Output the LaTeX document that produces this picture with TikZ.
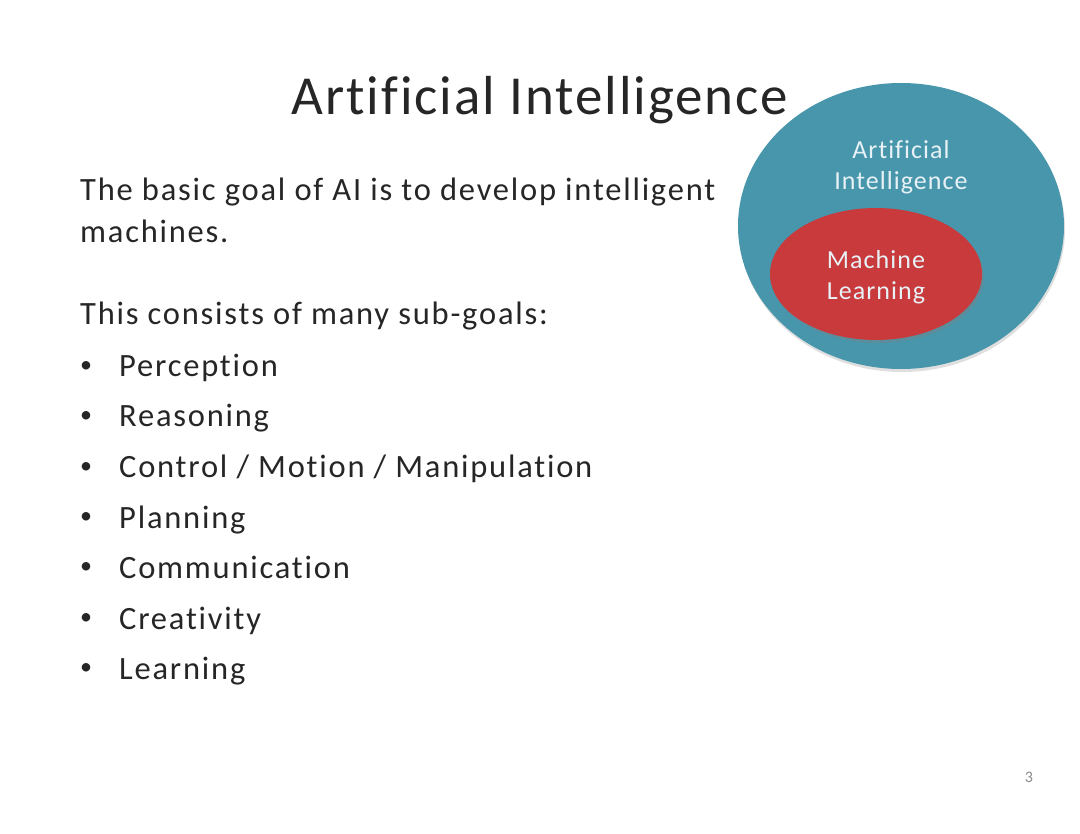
\documentclass[tikz,border=0pt]{standalone}
\usepackage{fontspec}
\setmainfont{Carlito}[LetterSpace=5.5, Ligatures=CommonOff]
\newfontfamily\headfont{Carlito}[LetterSpace=3.5, Ligatures=CommonOff]
\newfontfamily\labelfont{Carlito}[LetterSpace=4, Ligatures=CommonOff]
\usetikzlibrary{positioning,shapes.geometric,shadows}
\definecolor{slidetext}{RGB}{38,38,38}
\definecolor{aiteal}{RGB}{71,150,172}
\definecolor{mlred}{RGB}{200,58,60}
\definecolor{setlabel}{RGB}{232,242,246}
\newcommand{\itemdot}{\makebox[39pt][l]{\raisebox{4.5pt}{\fontsize{24}{24}\selectfont\textbullet}}}
\tikzset{%
  % Specifications for style of nodes:
        headline/.style = {font=\headfont\fontsize{55}{66}\selectfont, text=slidetext,
                           anchor=base, inner sep=0pt},
        bodytext/.style = {font=\fontsize{32.5}{43}\selectfont, text=slidetext,
                           anchor=base west, inner sep=0pt},
      bulletitem/.style = {bodytext},
        outerset/.style = {ellipse, fill=aiteal, minimum width=326, minimum height=286,
                           drop shadow={shadow xshift=1pt, shadow yshift=-3pt, opacity=0.25}},
        innerset/.style = {ellipse, fill=mlred, minimum width=212, minimum height=132,
                           drop shadow={shadow xshift=2pt, shadow yshift=-3pt, opacity=0.35}},
        setlabel/.style = {font=\labelfont\fontsize{26}{31}\selectfont, text=setlabel,
                           align=center, inner sep=0pt},
}
\begin{document}
\begin{tikzpicture}[x=1pt, y=-1pt]
  \useasboundingbox[fill=white] (0,0) rectangle (1080,834);
  % Specification of the sets on the right
  \node (aiSet) [outerset] at (901,226) {};
  \node (mlSet) [innerset] at (876,274) {};
  \node (aiLabel) [setlabel] at (901,167) {Artificial\\Intelligence};
  \node (mlLabel) [setlabel] at (876,277) {Machine\\Learning};
  % Specification of the texts on the left
  \node (title)     [headline] at (540,115) {Artificial Intelligence};
  \node (goal)      [bodytext] at (80,201)  {The basic goal of AI is to develop intelligent};
  \node (goalEnd)   [bodytext] at (80,243)  {machines.};
  \node (subgoals)  [bodytext] at (80,325)  {This consists of many sub-goals:};
  \node (perception)    [bulletitem] at (80,377) {\itemdot Perception};
  \node (reasoning)     [bulletitem] at (80,427) {\itemdot Reasoning};
  \node (control)       [bulletitem] at (80,478) {\itemdot Control / Motion / Manipulation};
  \node (planning)      [bulletitem] at (80,528) {\itemdot Planning};
  \node (communication) [bulletitem] at (80,578) {\itemdot Communication};
  \node (creativity)    [bulletitem] at (80,629) {\itemdot Creativity};
  \node (learning)      [bulletitem] at (80,679) {\itemdot Learning};
  % Page number
  \node (pageNo) [font=\fontsize{16}{19}\selectfont, text=black!45, anchor=base, inner sep=0pt]
        at (1029,782) {3};
\end{tikzpicture}
\end{document}
